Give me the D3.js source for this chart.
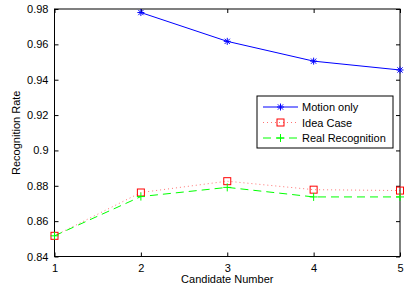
<!DOCTYPE html>
<html lang="en">
<head>
    <meta charset="UTF-8">
    <title>Recognition Rate</title>
    <style>
        body { margin: 0; background: #fff; }
        text { font-family: "Liberation Sans", Arial, sans-serif; }
    </style>
</head>
<body>
    <script src="https://d3js.org/d3.v7.min.js"></script>
    <script>
        // data
        var candidates = [1, 2, 3, 4, 5];
        var motionX = [2, 3, 4, 5];
        var motionOnly = [0.978, 0.9617, 0.9505, 0.9455];
        var ideaCase = [0.8517, 0.8762, 0.8826, 0.8778, 0.8773];
        var realRecognition = [0.8517, 0.8739, 0.8791, 0.8737, 0.8737];
        var yTicks = [0.84, 0.86, 0.88, 0.9, 0.92, 0.94, 0.96, 0.98];
        var seriesNames = ["Motion only", "Idea Case", "Real Recognition"];

        var width = 406, height = 289;
        var svg = d3.select('body').append('svg').attr('width', width).attr('height', height);

        var x = d3.scaleLinear().domain([1, 5]).range([54.5, 400]);
        var y = d3.scaleLinear().domain([0.84, 0.98]).range([256.5, 9]);

        // axes (matlab style: ticks inward on all sides)
        var tickLen = 4;
        svg.append('g').attr('transform', 'translate(0,' + y(0.84) + ')')
            .call(d3.axisBottom(x).tickValues(candidates).tickFormat(d3.format('d')).tickSize(-tickLen).tickPadding(8))
            .call(function (g) { g.select('.domain').remove(); });
        svg.append('g').attr('transform', 'translate(0,' + y(0.98) + ')')
            .call(d3.axisTop(x).tickValues(candidates).tickFormat('').tickSize(-tickLen))
            .call(function (g) { g.select('.domain').remove(); });
        svg.append('g').attr('transform', 'translate(' + x(1) + ',0)')
            .call(d3.axisLeft(y).tickValues(yTicks).tickFormat(function (d) { return d === 0.9 ? '0.9' : d3.format('.2f')(d); }).tickSize(-tickLen).tickPadding(6))
            .call(function (g) { g.select('.domain').remove(); });
        svg.append('g').attr('transform', 'translate(' + x(5) + ',0)')
            .call(d3.axisRight(y).tickValues(yTicks).tickFormat('').tickSize(-tickLen))
            .call(function (g) { g.select('.domain').remove(); });

        svg.selectAll('.tick line').attr('stroke', '#000');
        svg.selectAll('.tick text').attr('font-size', 11).attr('fill', '#000')
            .style('font-family', '"Liberation Sans", Arial, sans-serif');

        svg.append('rect')
            .attr('x', x(1)).attr('y', y(0.98))
            .attr('width', x(5) - x(1)).attr('height', y(0.84) - y(0.98))
            .attr('fill', 'none').attr('stroke', '#000').attr('stroke-width', 1);

        // labels
        svg.append('text').attr('x', (x(1) + x(5)) / 2).attr('y', 283)
            .attr('text-anchor', 'middle').attr('font-size', 11).text('Candidate Number');
        svg.append('text').attr('transform', 'translate(20,' + ((y(0.84) + y(0.98)) / 2) + ') rotate(-90)')
            .attr('text-anchor', 'middle').attr('font-size', 11).text('Recognition Rate');

        var line = d3.line().x(function (d) { return x(d[0]); }).y(function (d) { return y(d[1]); });

        // markers
        function star(g, cx, cy, color) {
            var r = 3.5;
            var s = g.append('g').attr('stroke', color).attr('stroke-width', 1);
            s.append('line').attr('x1', cx - r).attr('x2', cx + r).attr('y1', cy).attr('y2', cy);
            s.append('line').attr('x1', cx).attr('x2', cx).attr('y1', cy - r).attr('y2', cy + r);
            s.append('line').attr('x1', cx - r * 0.75).attr('x2', cx + r * 0.75).attr('y1', cy - r * 0.75).attr('y2', cy + r * 0.75);
            s.append('line').attr('x1', cx - r * 0.75).attr('x2', cx + r * 0.75).attr('y1', cy + r * 0.75).attr('y2', cy - r * 0.75);
        }
        function square(g, cx, cy, color) {
            g.append('rect').attr('x', cx - 3.5).attr('y', cy - 3.5).attr('width', 7).attr('height', 7)
                .attr('fill', 'none').attr('stroke', color).attr('stroke-width', 1);
        }
        function plus(g, cx, cy, color) {
            var r = 4;
            var s = g.append('g').attr('stroke', color).attr('stroke-width', 1);
            s.append('line').attr('x1', cx - r).attr('x2', cx + r).attr('y1', cy).attr('y2', cy);
            s.append('line').attr('x1', cx).attr('x2', cx).attr('y1', cy - r).attr('y2', cy + r);
        }

        var motionData = d3.zip(motionX, motionOnly);
        var ideaData = d3.zip(candidates, ideaCase);
        var realData = d3.zip(candidates, realRecognition);

        var plot = svg.append('g');
        plot.append('path').datum(ideaData).attr('d', line).attr('fill', 'none')
            .attr('stroke', '#ff0000').attr('stroke-opacity', 0.55).attr('stroke-width', 1).attr('stroke-dasharray', '1,3');
        plot.append('path').datum(realData).attr('d', line).attr('fill', 'none')
            .attr('stroke', '#00ff00').attr('stroke-width', 1).attr('stroke-dasharray', '8,5');
        plot.append('path').datum(motionData).attr('d', line).attr('fill', 'none')
            .attr('stroke', '#0000ff').attr('stroke-width', 1);

        ideaData.forEach(function (d) { square(plot, x(d[0]), y(d[1]), '#ff0000'); });
        realData.forEach(function (d) { plus(plot, x(d[0]), y(d[1]), '#00ff00'); });
        motionData.forEach(function (d) { star(plot, x(d[0]), y(d[1]), '#0000ff'); });

        // legend
        var lg = svg.append('g').attr('transform', 'translate(257,96)');
        lg.append('rect').attr('x', 0).attr('y', 0).attr('width', 136).attr('height', 52)
            .attr('fill', '#fff').attr('stroke', '#000').attr('stroke-width', 1);
        var styles = [
            { color: '#0000ff', dash: null, op: 1, mark: star },
            { color: '#ff0000', dash: '1,3', op: 0.55, mark: square },
            { color: '#00ff00', dash: '8,5', op: 1, mark: plus }
        ];
        seriesNames.forEach(function (name, i) {
            var cy = 11 + i * 15.5;
            lg.append('line').attr('x1', 6).attr('x2', 41).attr('y1', cy).attr('y2', cy)
                .attr('stroke', styles[i].color).attr('stroke-opacity', styles[i].op)
                .attr('stroke-dasharray', styles[i].dash);
            styles[i].mark(lg, 23.5, cy, styles[i].color);
            lg.append('text').attr('x', 45).attr('y', cy + 4).attr('font-size', 11).text(name);
        });
    </script>
</body>
</html>
